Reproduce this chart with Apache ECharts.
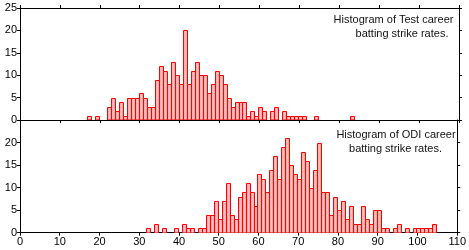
<!DOCTYPE html>
<html>
<head>
<meta charset="utf-8">
<script src="https://cdn.jsdelivr.net/npm/echarts@6/dist/echarts.min.js"></script>
<style>
  html, body { margin: 0; padding: 0; background: #ffffff; }
  #chart { width: 469px; height: 250px; }
</style>
</head>
<body>
<div id="chart"></div>
<script>
// ---- data (bin start values and counts, bin width = 1) ----
const testBins = [17,19,22,23,24,25,26,27,28,29,30,31,32,33,34,35,36,37,38,39,40,41,42,43,44,45,46,47,48,49,50,51,52,53,54,55,56,57,58,59,60,61,63,64,66,67,68,69,70,71,74,83];
const testCounts = [1,1,3,5,2,4,1,5,5,5,6,5,3,3,9,12,11,8,13,10,8,20,8,11,13,10,10,6,8,11,10,8,5,3,4,4,4,1,2,1,3,2,2,3,2,1,1,1,1,1,1,1];

const odiBins = [32,34,36,39,41,42,43,45,46,47,48,49,50,51,52,53,54,55,56,57,58,59,60,61,62,63,64,65,66,67,68,69,70,71,72,73,74,75,76,77,78,79,80,81,82,83,84,85,86,87,88,89,90,91,92,94,95,97,99,100,101,102,103,104];
const odiCounts = [1,2,1,1,2,1,1,1,1,4,4,7,3,7,11,4,3,8,9,11,9,6,13,12,9,14,17,12,19,21,15,13,12,18,16,10,14,20,9,9,4,8,5,7,3,6,2,2,6,3,2,5,5,1,1,1,2,1,1,1,1,1,1,2];

const xTicks = { min: 0, max: 110, interval: 10 };
const yTicks = { min: 0, max: 25, interval: 5 };
const BIN_WIDTH = 1;

const testTitle = ['Histogram of Test career', 'batting strike rates.'];
const odiTitle = ['Histogram of ODI career', 'batting strike rates.'];

// ---- styling ----
const FONT = '"Liberation Sans", Arial, sans-serif';
const axisLine = { show: true, onZero: false, lineStyle: { color: '#000', width: 1 } };
const tick = { show: true, length: 3, inside: false, lineStyle: { color: '#000', width: 1 } };
const lbl = { color: '#000', fontSize: 11, fontFamily: FONT, margin: 3 };

function toPairs(bins, counts) {
  return bins.map((b, i) => [b, counts[i]]);
}

function renderBin(params, api) {
  const x0 = api.value(0);
  const p0 = api.coord([x0, 0]);
  const p1 = api.coord([x0 + BIN_WIDTH, api.value(1)]);
  const left = Math.round(p0[0]) - 0.5;
  const right = Math.round(p1[0]) - 0.5;
  const top = Math.round(p1[1]) + 0.5;
  const bottom = Math.round(p0[1]);
  return {
    type: 'rect',
    shape: { x: left, y: top, width: right - left, height: bottom - top },
    style: {
      fill: new echarts.graphic.LinearGradient(0, 0, 1, 0, [
        { offset: 0, color: '#ff8f8f' }, { offset: 0.5, color: '#ffc2c2' }, { offset: 1, color: '#ff8f8f' }]),
      stroke: '#ff0000', lineWidth: 1
    }
  };
}

function xAx(grid, position, showLabel, showTick) {
  return {
    type: 'value', gridIndex: grid, position: position,
    min: xTicks.min, max: xTicks.max, interval: xTicks.interval,
    axisLine: axisLine, axisTick: Object.assign({}, tick, { show: showTick }),
    axisLabel: Object.assign({}, lbl, { show: showLabel, margin: 4 }),
    splitLine: { show: false }
  };
}
function yAx(grid, position, showLabel, showMax) {
  return {
    type: 'value', gridIndex: grid, position: position,
    min: yTicks.min, max: yTicks.max, interval: yTicks.interval,
    axisLine: axisLine, axisTick: tick,
    axisLabel: Object.assign({}, lbl, { show: showLabel, showMaxLabel: showMax }),
    splitLine: { show: false }
  };
}

const chart = echarts.init(document.getElementById('chart'), null, { renderer: 'canvas' });
chart.setOption({
  animation: false,
  backgroundColor: '#ffffff',
  grid: [
    { left: 20, width: 439, top: 8, height: 112 },
    { left: 20, width: 439, top: 120, height: 112.7 }
  ],
  xAxis: [
    xAx(0, 'bottom', false, true),
    xAx(0, 'top', false, true),
    xAx(1, 'bottom', true, true),
    xAx(1, 'top', false, false)
  ],
  yAxis: [
    yAx(0, 'left', true, true),
    yAx(0, 'right', false, true),
    yAx(1, 'left', true, false),
    yAx(1, 'right', false, false)
  ],
  series: [
    { type: 'custom', xAxisIndex: 0, yAxisIndex: 0, renderItem: renderBin, data: toPairs(testBins, testCounts), encode: { x: 0, y: 1 }, clip: true, z: 1 },
    { type: 'custom', xAxisIndex: 2, yAxisIndex: 2, renderItem: renderBin, data: toPairs(odiBins, odiCounts), encode: { x: 0, y: 1 }, clip: true, z: 1 }
  ],
  graphic: [
    { type: 'text', x: 393.5, y: 20, style: { text: testTitle[0], fill: '#111', font: '11px ' + FONT, textAlign: 'center', textVerticalAlign: 'middle' } },
    { type: 'text', x: 402, y: 34, style: { text: testTitle[1], fill: '#111', font: '11px ' + FONT, textAlign: 'center', textVerticalAlign: 'middle' } },
    { type: 'text', x: 396, y: 135, style: { text: odiTitle[0], fill: '#111', font: '11px ' + FONT, textAlign: 'center', textVerticalAlign: 'middle' } },
    { type: 'text', x: 395.5, y: 149, style: { text: odiTitle[1], fill: '#111', font: '11px ' + FONT, textAlign: 'center', textVerticalAlign: 'middle' } }
  ]
});
</script>
</body>
</html>
